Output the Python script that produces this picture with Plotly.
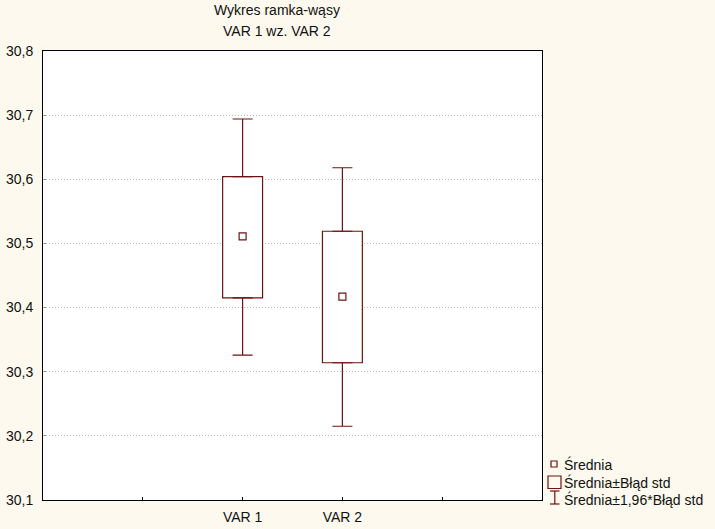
import plotly.graph_objects as go

# ---- data ----
categories = ["VAR 1", "VAR 2"]
means = [30.511, 30.417]
box_low = [30.415, 30.314]      # Średnia - Błąd std
box_high = [30.604, 30.519]     # Średnia + Błąd std
whisk_low = [30.326, 30.215]    # Średnia - 1,96*Błąd std
whisk_high = [30.694, 30.618]   # Średnia + 1,96*Błąd std
y_ticks = [30.1, 30.2, 30.3, 30.4, 30.5, 30.6, 30.7, 30.8]
legend_labels = ["Średnia", "Średnia±Błąd std", "Średnia±1,96*Błąd std"]
title_lines = ["Wykres ramka-wąsy", "VAR 1 wz. VAR 2"]

MAROON = "#6E1212"
BG = "#FDF9EE"
FONT = "Liberation Sans, Arial, sans-serif"
LW = 1.2

xpos = [i + 2 for i in range(len(categories))]

fig = go.Figure()

# boxes: mean ± SE
fig.add_trace(go.Bar(
    x=xpos,
    y=[h - l for h, l in zip(box_high, box_low)],
    base=box_low,
    width=0.4,
    marker=dict(color="white", line=dict(color=MAROON, width=LW)),
    showlegend=False, hoverinfo="skip",
))

# upper whiskers
fig.add_trace(go.Scatter(
    x=xpos, y=box_high, mode="markers",
    marker=dict(size=1, color="rgba(0,0,0,0)"),
    error_y=dict(type="data", symmetric=False,
                 array=[w - b for w, b in zip(whisk_high, box_high)],
                 arrayminus=[0] * len(xpos),
                 color=MAROON, thickness=LW, width=10),
    showlegend=False, hoverinfo="skip",
))
# lower whiskers
fig.add_trace(go.Scatter(
    x=xpos, y=box_low, mode="markers",
    marker=dict(size=1, color="rgba(0,0,0,0)"),
    error_y=dict(type="data", symmetric=False,
                 array=[0] * len(xpos),
                 arrayminus=[b - w for w, b in zip(whisk_low, box_low)],
                 color=MAROON, thickness=LW, width=10),
    showlegend=False, hoverinfo="skip",
))
# means
fig.add_trace(go.Scatter(
    x=xpos, y=means, mode="markers",
    marker=dict(symbol="square-open", size=7, color=MAROON, line=dict(width=LW)),
    showlegend=False,
))

# plot area geometry in px for the manual legend
L, R, T, B = 43, 173, 51, 29
W, H = 715, 529
pw, ph = W - L - R, H - T - B

def px(xp):
    return (xp - L) / pw

def py(yp):
    return (H - B - yp) / ph

shapes = []
# small square (Średnia)
shapes.append(dict(type="rect", xref="paper", yref="paper",
                   x0=px(551), x1=px(557), y0=py(467), y1=py(461),
                   line=dict(color=MAROON, width=LW), fillcolor="rgba(0,0,0,0)"))
# big square (Średnia±Błąd std)
shapes.append(dict(type="rect", xref="paper", yref="paper",
                   x0=px(548), x1=px(561), y0=py(488.5), y1=py(476),
                   line=dict(color=MAROON, width=LW), fillcolor="rgba(0,0,0,0)"))
# I-beam (Średnia±1,96*Błąd std)
for (xa, ya, xb, yb) in [(550, 491, 559.5, 491), (550, 504, 559.5, 504), (554.8, 491, 554.8, 504)]:
    shapes.append(dict(type="line", xref="paper", yref="paper",
                       x0=px(xa), y0=py(ya), x1=px(xb), y1=py(yb),
                       line=dict(color=MAROON, width=LW)))

annotations = []
for lab, yc in zip(legend_labels, [464, 482.5, 499]):
    annotations.append(dict(text=lab, xref="paper", yref="paper", x=px(562), y=py(yc),
                            xanchor="left", yanchor="middle", showarrow=False,
                            font=dict(family=FONT, size=14, color="#111")))
for lab, yc in zip(title_lines, [9.5, 31]):
    annotations.append(dict(text=lab, xref="paper", yref="paper", x=px(276.5), y=py(yc),
                            xanchor="center", yanchor="middle", showarrow=False,
                            font=dict(family=FONT, size=14, color="#111")))

fig.update_layout(
    width=W, height=H,
    margin=dict(l=L, r=R, t=T, b=B, pad=0, autoexpand=False),
    paper_bgcolor=BG, plot_bgcolor="white",
    separators=",.",
    showlegend=False,
    shapes=shapes, annotations=annotations,
    font=dict(family=FONT, size=14, color="#111"),
    xaxis=dict(range=[0, 5], tickvals=[1, 2, 3, 4], ticktext=["", categories[0], categories[1], ""],
               showgrid=False, zeroline=False, showline=True, mirror=True, automargin=False,
               linecolor="black", linewidth=1, ticks="inside", ticklen=3,
               tickcolor="black", ticklabelstandoff=4),
    yaxis=dict(range=[y_ticks[0], y_ticks[-1]], tickvals=y_ticks, tickformat=".1f",
               showgrid=True, gridcolor="#bdbdbd", griddash="1px,2px", gridwidth=1,
               zeroline=False, showline=True, mirror=True, automargin=False,
               linecolor="black", linewidth=1, ticks="inside", ticklen=3,
               tickcolor="#999", ticklabelstandoff=6),
)

fig.write_html("out.html", config={"displayModeBar": False},
               post_script="document.body.style.margin='0';document.body.style.background='%s';" % BG)
